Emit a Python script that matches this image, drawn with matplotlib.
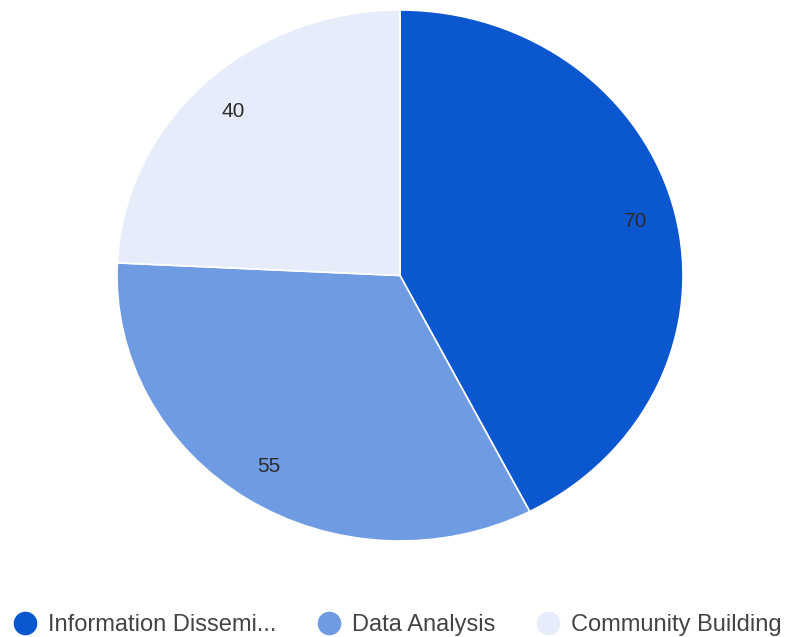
import matplotlib.pyplot as plt
from matplotlib.lines import Line2D

# data
categories = ['Information Dissemi...', 'Data Analysis', 'Community Building']
values = [70, 55, 40]
colors = ['#0b57d0', '#6f9be3', '#e6ecf9']

plt.rcParams['font.family'] = ['Liberation Sans', 'DejaVu Sans']

fig = plt.figure(figsize=(7.85, 6.37), dpi=100)
ax = fig.add_axes([117 / 785, (637 - 541) / 637, 566 / 785, 531 / 637])

wedges, texts = ax.pie(values, colors=colors, startangle=90, counterclock=False,
                       labels=[str(v) for v in values], labeldistance=0.855,
                       wedgeprops=dict(edgecolor='white', linewidth=1.2),
                       textprops=dict(color='#2b2b2b', fontsize=15))
for t in texts:
    t.set_ha('center')
    t.set_va('center')
ax.set_aspect('auto')
ax.set_xlim(-1, 1)
ax.set_ylim(-1, 1)

##### legend
handles = []
for c in colors:
    handles.append(Line2D([0], [0], marker='o', linestyle='', markersize=16,
                          markerfacecolor=c, markeredgecolor=c))
fig.legend(handles, categories, loc='center', bbox_to_anchor=(397.5 / 785, 1 - 625 / 637),
           ncol=3, frameon=False, fontsize=17, handletextpad=0.47,
           columnspacing=1.74, labelcolor='#444444', handlelength=1.0,
           borderpad=0, borderaxespad=0)

fig.savefig('out.png', dpi=100)
